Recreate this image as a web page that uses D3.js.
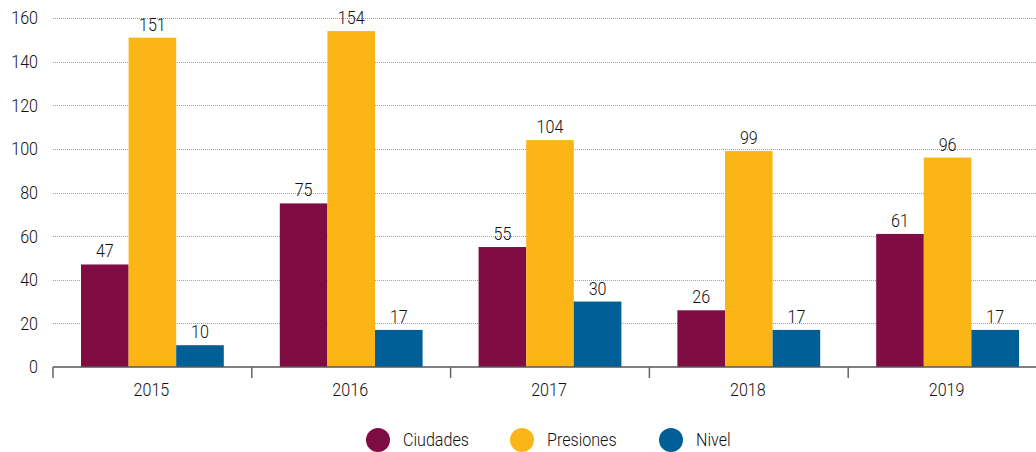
<!DOCTYPE html>
<html>
<head>
<meta charset="utf-8">
<script src="https://cdn.jsdelivr.net/npm/d3@7"></script>
<style>
  html, body { margin: 0; padding: 0; background: #fff; }
  svg { display: block; }
  text { font-family: 'Roboto', 'DejaVu Sans Condensed', sans-serif; font-weight: 300; fill: #111; font-size: 18.5px; }
</style>
</head>
<body>
<svg id="chart" width="1036" height="452"></svg>
<script>
const years = ["2015", "2016", "2017", "2018", "2019"];
const seriesNames = ["Ciudades", "Presiones", "Nivel"];
const ciudades = [47, 75, 55, 26, 61];
const presiones = [151, 154, 104, 99, 96];
const nivel = [10, 17, 30, 17, 17];
const yTicks = [0, 20, 40, 60, 80, 100, 120, 140, 160];
const colors = ["#7f0c43", "#fbb516", "#005f96"];

const values = [ciudades, presiones, nivel];
const svg = d3.select("#chart");
const NARROW = 0.87; // horizontal squeeze for a condensed look

// place a text node at (x, y) with condensed width
function placeText(sel, fx, fy) {
  sel.attr("x", null).attr("y", null)
     .attr("transform", (d, i) => `translate(${fx(d, i)},${fy(d, i)}) scale(${NARROW},1)`);
}

const x0 = d3.scaleBand().domain(years).range([53, 1047]).paddingInner(0).paddingOuter(0);
const x1 = d3.scaleBand().domain(seriesNames).range([28, x0.bandwidth() - 28]).padding(0);
const y = d3.scaleLinear().domain([0, 160]).range([367, 18]);

// dotted gridlines
svg.append("g")
  .selectAll("line")
  .data(yTicks.filter(d => d > 0))
  .join("line")
  .attr("x1", 53).attr("x2", 1036)
  .attr("y1", d => Math.round(y(d)) + 0.5).attr("y2", d => Math.round(y(d)) + 0.5)
  .attr("stroke", "#a0a0a0")
  .attr("stroke-width", 1)
  .attr("stroke-dasharray", "1,1");

// y axis labels
svg.append("g")
  .selectAll("text")
  .data(yTicks)
  .join("text")
  .attr("dy", "0.35em")
  .attr("text-anchor", "end")
  .text(d => d)
  .call(placeText, () => 38, d => y(d));

// bars
const groups = svg.append("g")
  .selectAll("g")
  .data(years)
  .join("g")
  .attr("transform", d => `translate(${x0(d)},0)`);

const cells = (yr, i) => seriesNames.map((s, k) => ({ s, v: values[k][i], k }));

groups.selectAll("rect")
  .data(cells)
  .join("rect")
  .attr("x", d => x1(d.s))
  .attr("width", x1.bandwidth())
  .attr("y", d => y(d.v))
  .attr("height", d => y(0) - y(d.v))
  .attr("fill", d => colors[d.k]);

groups.selectAll("text.val")
  .data(cells)
  .join("text")
  .attr("class", "val")
  .attr("text-anchor", "middle")
  .text(d => d.v)
  .call(placeText, d => x1(d.s) + x1.bandwidth() / 2, d => y(d.v) - 7);

// x axis
const xAxis = svg.append("g");
xAxis.append("line")
  .attr("x1", 53).attr("x2", 1036)
  .attr("y1", 367).attr("y2", 367)
  .attr("stroke", "#555").attr("stroke-opacity", 0.75).attr("stroke-width", 2);
xAxis.selectAll("line.tick")
  .data(years)
  .join("line")
  .attr("class", "tick")
  .attr("x1", d => x0(d)).attr("x2", d => x0(d))
  .attr("y1", 367).attr("y2", 378)
  .attr("stroke", "#666").attr("stroke-width", 1.5);
xAxis.selectAll("text")
  .data(years)
  .join("text")
  .attr("text-anchor", "middle")
  .text(d => d)
  .call(placeText, d => x0(d) + x0.bandwidth() / 2 - 1, () => 396);

// legend
const legendX = [378, 522, 671];
const legend = svg.append("g")
  .selectAll("g")
  .data(seriesNames)
  .join("g")
  .attr("transform", (d, i) => `translate(${legendX[i]},440)`);
legend.append("circle").attr("r", 12).attr("fill", (d, i) => colors[i]);
legend.append("text")
  .attr("dy", "0.35em")
  .text(d => d)
  .call(placeText, () => 25, () => 0);
</script>
</body>
</html>
